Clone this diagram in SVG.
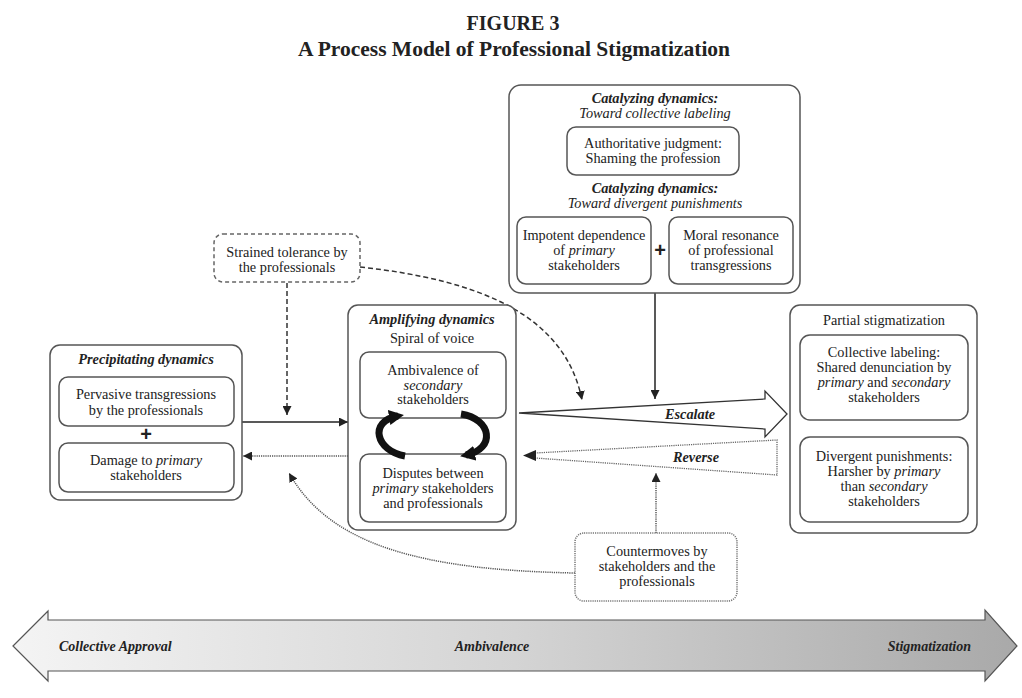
<svg xmlns="http://www.w3.org/2000/svg" width="1022" height="698" viewBox="0 0 1022 698">
<style>
.box{fill:#fff;stroke:#555;stroke-width:1.5}
.dash{fill:#fff;stroke:#666;stroke-width:1.5;stroke-dasharray:4 3}
.dot{fill:#fff;stroke:#777;stroke-width:1.5;stroke-dasharray:1.2 1}
.t{font-family:"Liberation Serif",serif;font-size:14.3px;fill:#222;text-anchor:middle}
.h{font-weight:bold;font-style:italic}
.i{font-style:italic}
.title{font-family:"Liberation Serif",serif;font-weight:bold;fill:#222;text-anchor:middle}
.plus{font-family:"Liberation Sans",sans-serif;font-weight:bold;font-size:20px;fill:#222;text-anchor:middle}
.ln{fill:none;stroke:#222;stroke-width:1.5}
.lnd{fill:none;stroke:#333;stroke-width:1.5;stroke-dasharray:5 3}
.lno{fill:none;stroke:#555;stroke-width:1.5;stroke-dasharray:1.2 1}
.scale{font-family:"Liberation Serif",serif;font-size:14px;font-style:italic;font-weight:bold;fill:#222}
</style>
<defs>
<marker id="ah" viewBox="0 0 10 10" refX="10" refY="5" markerWidth="9" markerHeight="9" markerUnits="userSpaceOnUse" orient="auto">
<path d="M0,0 L10,5 L0,10 z" fill="#222"/>
</marker>
<marker id="big" viewBox="0 0 10 10" refX="6" refY="5" markerWidth="15" markerHeight="15" markerUnits="userSpaceOnUse" orient="auto">
<path d="M0,0 L10,5 L0,10 z" fill="#111"/>
</marker>
<linearGradient id="grad" x1="0" y1="0" x2="1" y2="0">
<stop offset="0" stop-color="#f4f4f4"/>
<stop offset="0.5" stop-color="#d4d4d4"/>
<stop offset="1" stop-color="#a9a9a9"/>
</linearGradient>
</defs>
<rect width="1022" height="698" fill="#fff"/>

<g id="title">
<text class="title" x="513" y="30" font-size="20">FIGURE 3</text>
<text class="title" x="514" y="56" font-size="21.5">A Process Model of Professional Stigmatization</text>
</g>

<g id="scale">
<path d="M13,646 L48,611 L48,620 L985,620 L985,610 L1017,646 L985,681 L985,671 L48,671 L48,681 Z" fill="url(#grad)" stroke="#555" stroke-width="1.2"/>
<text class="scale" x="59" y="651">Collective Approval</text>
<text class="scale" x="492" y="651" text-anchor="middle">Ambivalence</text>
<text class="scale" x="971" y="651" text-anchor="end">Stigmatization</text>
</g>

<g id="connectors">
<line class="ln" x1="242" y1="422" x2="348" y2="422" marker-end="url(#ah)"/>
<line class="lno" x1="348" y1="456" x2="243" y2="456" marker-end="url(#ah)"/>
<line class="lnd" x1="287" y1="283" x2="287" y2="415" marker-end="url(#ah)"/>
<path class="lnd" d="M360,267 C480,280 565,315 582,400" marker-end="url(#ah)"/>
<line class="ln" x1="655" y1="293" x2="655" y2="399" marker-end="url(#ah)"/>
<line class="lno" x1="656" y1="533" x2="656" y2="473" marker-end="url(#ah)"/>
<path class="lno" d="M575,573 C420,570 330,545 289,473" marker-end="url(#ah)"/>
</g>

<g id="escalate">
<path d="M519,413 L765,399 L765,391 L787,414 L765,437 L765,429 Z" fill="#fff" stroke="#333" stroke-width="1.3"/>
<text class="t h" x="690" y="419">Escalate</text>
</g>

<g id="reverse">
<path d="M535,453 L777,440 L777,475 L535,458" fill="#fff" stroke="#666" stroke-width="1.3" stroke-dasharray="1.2 1"/>
<path d="M523,455.5 L536,450 L536,461 Z" fill="#222"/>
<text class="t h" x="696" y="462">Reverse</text>
</g>

<g id="catalyzing">
<rect class="box" x="509" y="85" width="291" height="208" rx="12"/>
<text class="t h" x="655" y="103">Catalyzing dynamics:</text>
<text class="t i" x="655" y="118">Toward collective labeling</text>
<rect class="box" x="567" y="127" width="172" height="48" rx="9"/>
<text class="t" x="653" y="148">Authoritative judgment:</text>
<text class="t" x="653" y="163">Shaming the profession</text>
<text class="t h" x="655" y="193">Catalyzing dynamics:</text>
<text class="t i" x="655" y="208">Toward divergent punishments</text>
<rect class="box" x="517" y="217" width="134" height="67" rx="9"/>
<text class="t" x="584" y="240">Impotent dependence</text>
<text class="t" x="584" y="255">of <tspan class="i">primary</tspan></text>
<text class="t" x="584" y="270">stakeholders</text>
<text class="plus" x="660" y="257">+</text>
<rect class="box" x="669" y="217" width="124" height="67" rx="9"/>
<text class="t" x="731" y="240">Moral resonance</text>
<text class="t" x="731" y="255">of professional</text>
<text class="t" x="731" y="270">transgressions</text>
</g>

<g id="strained">
<rect class="dash" x="214" y="234" width="146" height="48" rx="9"/>
<text class="t" x="287" y="257">Strained tolerance by</text>
<text class="t" x="287" y="272">the professionals</text>
</g>

<g id="precipitating">
<rect class="box" x="50" y="345" width="192" height="155" rx="10"/>
<text class="t h" x="146" y="364">Precipitating dynamics</text>
<rect class="box" x="59" y="377" width="175" height="49" rx="9"/>
<text class="t" x="146" y="399">Pervasive transgressions</text>
<text class="t" x="146" y="415">by the professionals</text>
<text class="plus" x="146" y="441">+</text>
<rect class="box" x="59" y="443" width="175" height="49" rx="9"/>
<text class="t" x="146" y="465">Damage to <tspan class="i">primary</tspan></text>
<text class="t" x="146" y="480">stakeholders</text>
</g>

<g id="amplifying">
<rect class="box" x="348" y="305" width="168" height="225" rx="10"/>
<text class="t h" x="432" y="324">Amplifying dynamics</text>
<text class="t" x="432" y="343">Spiral of voice</text>
<rect class="box" x="360" y="352" width="146" height="66" rx="9"/>
<text class="t" x="433" y="375">Ambivalence of</text>
<text class="t i" x="433" y="390">secondary</text>
<text class="t" x="433" y="404">stakeholders</text>
<rect class="box" x="360" y="454" width="146" height="68" rx="9"/>
<text class="t" x="433" y="478">Disputes between</text>
<text class="t" x="433" y="493"><tspan class="i">primary</tspan> stakeholders</text>
<text class="t" x="433" y="508">and professionals</text>
<path d="M405,456 C376,451 368,421 398,416" fill="none" stroke="#111" stroke-width="7" marker-end="url(#big)"/>
<path d="M461,414 C492,419 496,449 466,455" fill="none" stroke="#111" stroke-width="7" marker-end="url(#big)"/>
</g>

<g id="countermoves">
<rect class="dot" x="575" y="533" width="162" height="68" rx="9"/>
<text class="t" x="657" y="556">Countermoves by</text>
<text class="t" x="657" y="571">stakeholders and the</text>
<text class="t" x="657" y="586">professionals</text>
</g>

<g id="partial">
<rect class="box" x="790" y="305" width="187" height="228" rx="10"/>
<text class="t" x="884" y="325">Partial stigmatization</text>
<rect class="box" x="800" y="335" width="168" height="85" rx="10"/>
<text class="t" x="884" y="357">Collective labeling:</text>
<text class="t" x="884" y="372">Shared denunciation by</text>
<text class="t" x="884" y="387"><tspan class="i">primary</tspan> and <tspan class="i">secondary</tspan></text>
<text class="t" x="884" y="402">stakeholders</text>
<rect class="box" x="800" y="437" width="168" height="85" rx="10"/>
<text class="t" x="884" y="461">Divergent punishments:</text>
<text class="t" x="884" y="476">Harsher by <tspan class="i">primary</tspan></text>
<text class="t" x="884" y="491">than <tspan class="i">secondary</tspan></text>
<text class="t" x="884" y="506">stakeholders</text>
</g>
</svg>
